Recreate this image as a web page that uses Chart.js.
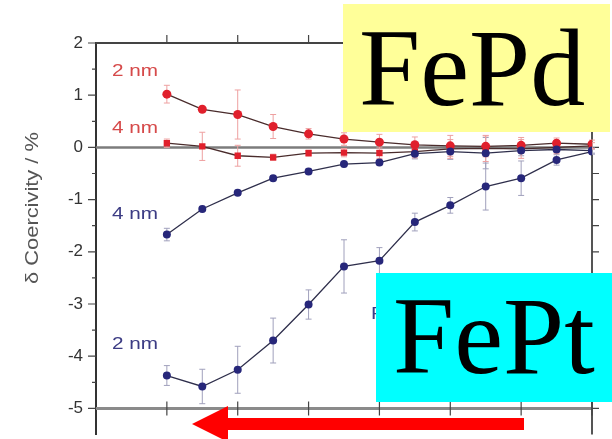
<!DOCTYPE html>
<html>
<head>
<meta charset="utf-8">
<script src="https://cdn.jsdelivr.net/npm/chart.js@4.4.1/dist/chart.umd.min.js"></script>
<style>
  html, body { margin: 0; padding: 0; background: #ffffff; }
  #wrap { width: 612px; height: 439px; }
</style>
</head>
<body>
<div id="wrap"><canvas id="c" width="612" height="439"></canvas></div>
<script>
// Measurement steps along the horizontal axis
const steps = [1, 1.5, 2, 2.5, 3, 3.5, 4, 4.5, 5, 5.5, 6, 6.5, 7];

// FePd films (red)
const fepd2nm    = [1.02, 0.73, 0.63, 0.40, 0.26, 0.16, 0.10, 0.05, 0.03, 0.02, 0.04, 0.08, 0.06];
const fepd2nmErr = [0.17, 0.05, 0.47, 0.23, 0.10, 0.12, 0.15, 0.15, 0.20, 0.20, 0.15, 0.10, 0.08];
const fepd4nm    = [0.08, 0.02, -0.16, -0.19, -0.11, -0.10, -0.11, -0.08, -0.03, -0.02, -0.03, 0.00, 0.03];
const fepd4nmErr = [0.08, 0.27, 0.20, 0.06, 0.06, 0.08, 0.10, 0.12, 0.18, 0.25, 0.18, 0.12, 0.06];

// FePt films (blue)
const fept4nm    = [-1.67, -1.18, -0.87, -0.59, -0.46, -0.32, -0.29, -0.12, -0.08, -0.11, -0.06, -0.04, -0.06];
const fept4nmErr = [0.12, 0.05, 0.05, 0.05, 0.05, 0.05, 0.05, 0.10, 0.15, 0.30, 0.10, 0.05, 0.05];
const fept2nm    = [-4.37, -4.58, -4.26, -3.70, -3.01, -2.28, -2.17, -1.43, -1.11, -0.75, -0.59, -0.24, -0.08];
const fept2nmErr = [0.19, 0.33, 0.45, 0.43, 0.28, 0.51, 0.25, 0.17, 0.15, 0.45, 0.33, 0.10, 0.05];

// Axis ticks
const yTickValues = [-5, -4, -3, -2, -1, 0, 1, 2];
const yMinorValues = [-4.5, -3.5, -2.5, -1.5, -0.5, 0.5, 1.5];
const xTickValues = [1, 2, 3, 4, 5, 6, 7];

const RED = '#e0202c';
const NAVY = '#27277a';

function pts(vals) { return steps.map((s, i) => ({ x: s, y: vals[i] })); }

function series(vals, errs, color, lineColor, style, radius, errColor) {
  return {
    data: pts(vals),
    errors: errs,
    errColor: errColor,
    borderColor: lineColor,
    borderWidth: 1.3,
    backgroundColor: color,
    pointBackgroundColor: color,
    pointBorderColor: color,
    pointBorderWidth: 0,
    pointStyle: style,
    pointRadius: radius,
    tension: 0,
    fill: false
  };
}

// Vertical error bars with caps, drawn under the markers
const errorBars = {
  id: 'errorBars',
  beforeDatasetsDraw(chart) {
    const { ctx, scales: { x, y } } = chart;
    ctx.save();
    chart.data.datasets.forEach(ds => {
      ctx.strokeStyle = ds.errColor;
      ctx.lineWidth = 1;
      ds.data.forEach((p, i) => {
        const e = ds.errors[i];
        const px = x.getPixelForValue(p.x);
        const y1 = y.getPixelForValue(p.y + e);
        const y2 = y.getPixelForValue(p.y - e);
        ctx.beginPath();
        ctx.moveTo(px, y1); ctx.lineTo(px, y2);
        ctx.moveTo(px - 3, y1); ctx.lineTo(px + 3, y1);
        ctx.moveTo(px - 3, y2); ctx.lineTo(px + 3, y2);
        ctx.stroke();
      });
    });
    ctx.restore();
  }
};

// Frame: reference lines at 0 and -5, top and right axes, tick marks
const frame = {
  id: 'frame',
  beforeDatasetsDraw(chart) {
    const { ctx, chartArea: a, scales: { x, y } } = chart;
    ctx.save();
    const hline = (v, color, w) => {
      const py = y.getPixelForValue(v);
      ctx.strokeStyle = color; ctx.lineWidth = w;
      ctx.beginPath(); ctx.moveTo(a.left, py); ctx.lineTo(a.right, py); ctx.stroke();
    };
    hline(0, '#7c7c7c', 2.5);
    hline(-5, '#8a8a8a', 3);
    hline(2, '#444444', 2);

    // right axis
    ctx.strokeStyle = '#555555'; ctx.lineWidth = 2;
    ctx.beginPath(); ctx.moveTo(a.right, a.top); ctx.lineTo(a.right, a.bottom); ctx.stroke();

    ctx.strokeStyle = '#444444'; ctx.lineWidth = 1.2;
    ctx.beginPath();
    // left axis ticks (outward)
    yTickValues.forEach(v => { const py = y.getPixelForValue(v); ctx.moveTo(a.left - 8, py); ctx.lineTo(a.left, py); });
    yMinorValues.forEach(v => { const py = y.getPixelForValue(v); ctx.moveTo(a.left - 4, py); ctx.lineTo(a.left, py); });
    // right axis ticks (outward)
    yTickValues.concat(yMinorValues).forEach(v => { const py = y.getPixelForValue(v); ctx.moveTo(a.right, py); ctx.lineTo(a.right + 7, py); });
    // top axis ticks (outward)
    const top = y.getPixelForValue(2);
    xTickValues.forEach(v => { const px = x.getPixelForValue(v); ctx.moveTo(px, top - 8); ctx.lineTo(px, top); });
    // ticks crossing the -5 line
    const base = y.getPixelForValue(-5);
    xTickValues.forEach(v => { const px = x.getPixelForValue(v); ctx.moveTo(px, base - 7); ctx.lineTo(px, base + 7); });
    ctx.stroke();
    ctx.restore();
  }
};

function stretchedText(ctx, text, x, y, font, color, sx, align) {
  ctx.save();
  ctx.font = font;
  ctx.fillStyle = color;
  ctx.textBaseline = 'middle';
  ctx.textAlign = align || 'left';
  ctx.translate(x, y);
  ctx.scale(sx, 1);
  ctx.fillText(text, 0, 0);
  ctx.restore();
}

// Series labels, axis title and the highlighted material tags
const labels = {
  id: 'labels',
  afterDatasetsDraw(chart) {
    const { ctx } = chart;
    const f = '17px "Liberation Sans", Arial, sans-serif';
    stretchedText(ctx, '2 nm', 112, 71, f, '#d64a4a', 1.22);
    stretchedText(ctx, '4 nm', 112, 128, f, '#d64a4a', 1.22);
    stretchedText(ctx, '4 nm', 112, 214, f, '#3c3c84', 1.22);
    stretchedText(ctx, '2 nm', 112, 344, f, '#3c3c84', 1.22);
    stretchedText(ctx, 'FePt', 371, 314, f, '#3c3c84', 1.22);

    // y axis title
    ctx.save();
    ctx.translate(33, 208);
    ctx.rotate(-Math.PI / 2);
    ctx.scale(1.15, 1);
    ctx.font = '19px "Liberation Sans", Arial, sans-serif';
    ctx.fillStyle = '#555555';
    ctx.textAlign = 'center';
    ctx.textBaseline = 'middle';
    ctx.fillText('\u03B4 Coercivity / %', 0, 0);
    ctx.restore();
  },
  afterDraw(chart) {
    const { ctx } = chart;
    ctx.save();
    // FePd tag
    ctx.fillStyle = '#ffff99';
    ctx.fillRect(343, 4, 267, 128);
    // FePt tag
    ctx.fillStyle = '#00ffff';
    ctx.fillRect(376, 273, 236, 129);
    ctx.fillStyle = '#000000';
    ctx.font = '110px "Liberation Serif", "Times New Roman", serif';
    ctx.textBaseline = 'alphabetic';
    ctx.textAlign = 'left';
    ctx.fillText('FePd', 359, 105);
    ctx.fillText('FePt', 393, 373);

    // direction arrow
    ctx.fillStyle = '#ff0000';
    ctx.fillRect(226, 418, 298, 12);
    ctx.beginPath();
    ctx.moveTo(192, 424);
    ctx.lineTo(228, 406);
    ctx.lineTo(228, 442);
    ctx.closePath();
    ctx.fill();
    ctx.restore();
  }
};

new Chart(document.getElementById('c'), {
  type: 'line',
  data: {
    datasets: [
      series(fept2nm, fept2nmErr, NAVY, '#2f2f4c', 'circle', 4, '#a0a0bc'),
      series(fept4nm, fept4nmErr, NAVY, '#2f2f4c', 'circle', 4, '#a0a0bc'),
      series(fepd4nm, fepd4nmErr, RED, '#4a2c2c', 'rect', 4.5, '#eea0a0'),
      series(fepd2nm, fepd2nmErr, RED, '#4a2c2c', 'circle', 4.5, '#eea0a0')
    ]
  },
  options: {
    responsive: false,
    devicePixelRatio: 1,
    animation: false,
    layout: { padding: { left: 0, right: 20, top: 43, bottom: 1.6 } },
    plugins: { legend: { display: false }, tooltip: { enabled: false } },
    scales: {
      x: {
        type: 'linear',
        min: 0,
        max: 7,
        display: false
      },
      y: {
        type: 'linear',
        min: -5.5,
        max: 2,
        afterBuildTicks(scale) { scale.ticks = yTickValues.map(v => ({ value: v })); },
        afterFit(scale) {
          scale.width = 96;
          scale.paddingTop = 0;
          scale.paddingBottom = 0;
        },
        grid: { display: false, drawTicks: false },
        border: { display: true, color: '#333333', width: 2 },
        ticks: {
          padding: 13,
          color: '#333333',
          font: { family: '"Liberation Sans", Arial, sans-serif', size: 17 },
          callback: v => String(v)
        }
      }
    }
  },
  plugins: [frame, errorBars, labels]
});
</script>
</body>
</html>
